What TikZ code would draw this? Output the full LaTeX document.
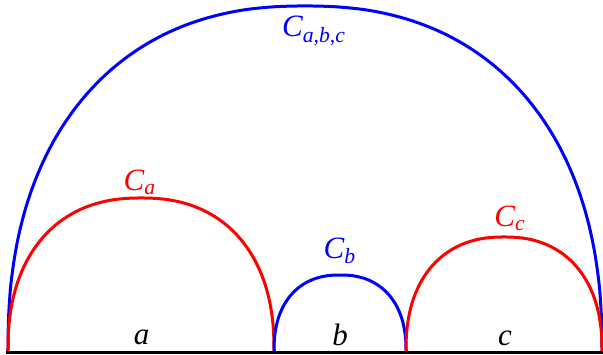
\documentclass[tikz,border=0pt]{standalone}
\usepackage{fontspec}
\setmainfont{Liberation Serif}
\usetikzlibrary{positioning}
\tikzstyle{curve}=[line width=1.5pt]
\tikzstyle{lbl}=[anchor=base, inner sep=0pt, font=\fontsize{15.5}{18}\selectfont\itshape]
\tikzstyle{redc}=[curve, red]
\tikzstyle{bluec}=[curve, blue]
\newcommand{\clabel}[1]{C\textsubscript{#1}}
% dome: style, centre x, half width, height (superellipse, n = 2.3)
\newcommand{\dome}[4]{\draw[#1, domain=0:180, samples=120, smooth, variable=\t]
    plot ({#2 + #3*sign(cos(\t))*max(abs(cos(\t)),0.00001)^0.87}, {#4*max(abs(sin(\t)),0.00001)^0.87});}

\begin{document}
\begin{tikzpicture}[x=0.5pt, y=0.5pt]
    \useasboundingbox (0,-3) rectangle (603,351);

    % outer curve
    \dome{bluec}{305}{297}{345}
    \node[lbl, text=blue] (Cabc) at (314,314) {\clabel{a,b,c}};

    % curves over the three parts
    \dome{redc}{141}{133}{153}
    \node[lbl, text=red] (Ca) at (140,161) {\clabel{a}};

    \dome{bluec}{340}{66}{76}
    \node[lbl, text=blue] (Cb) at (340,93) {\clabel{b}};

    \dome{redc}{504}{98}{114}
    \node[lbl, text=red] (Cc) at (510,125) {\clabel{c}};

    % base line
    \draw[line width=1.5pt] (6,-1.5) -- (605,-1.5);
    \node[lbl] (a) at (141.5,7) {a};
    \node[lbl] (b) at (340,6) {b};
    \node[lbl] (c) at (505,6) {c};
\end{tikzpicture}
\end{document}
